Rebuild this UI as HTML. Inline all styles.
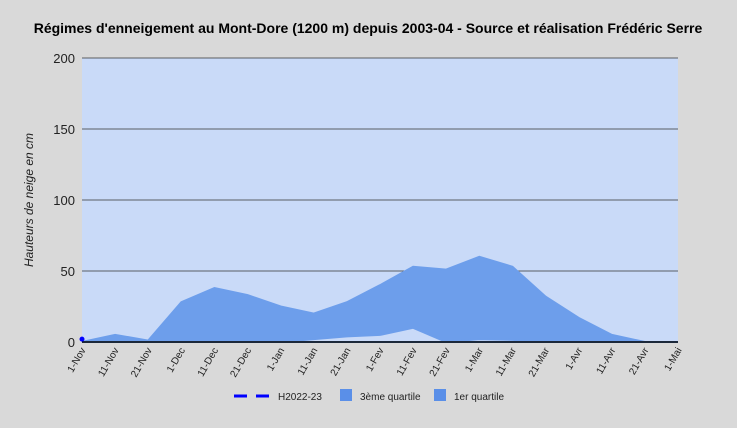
<!DOCTYPE html>
<html><head><meta charset="utf-8"><style>
body{margin:0;background:#d9d9d9;font-family:"Liberation Sans",sans-serif}
</style></head><body>
<svg id="c" width="737" height="423" xmlns="http://www.w3.org/2000/svg">
<rect width="737" height="423" fill="#d9d9d9"/>
<text x="368" y="33" text-anchor="middle" font-size="14" font-weight="bold" fill="#000">Régimes d'enneigement au Mont-Dore (1200 m) depuis 2003-04 - Source et réalisation Frédéric Serre</text>
<text transform="translate(33,200) rotate(-90)" text-anchor="middle" font-size="12" font-style="italic" fill="#222">Hauteurs de neige en cm</text>
<g id="plot"></g>
</svg>
<script>
const categories=["1-Nov","11-Nov","21-Nov","1-Dec","11-Dec","21-Dec","1-Jan","11-Jan","21-Jan","1-Fev","11-Fev","21-Fev","1-Mar","11-Mar","21-Mar","1-Avr","11-Avr","21-Avr","1-Mai"];
const q3=[0,5,1,28,38,33,25,20,28,40,53,51,60,53,32,17,5,0,0];
const q1=[0,0,0,0,0,0,0,2,4,5,10,0,2,1.5,0,0,0,0,0];
const h2022=[2];
const yTicks=[0,50,100,150,200];
const X0=82,X1=678,Y0=342,Y1=58,YMAX=200;
const xs=i=>X0+i*(X1-X0)/(categories.length-1);
const ys=v=>Y0-v*(Y0-Y1)/YMAX;
const NS="http://www.w3.org/2000/svg";
const g=document.getElementById('plot');
function mk(t,a){const e=document.createElementNS(NS,t);for(const k in a)e.setAttribute(k,a[k]);g.appendChild(e);return e;}
const bg=mk('rect',{x:X0,y:Y1,width:X1-X0,height:Y0-Y1,fill:'#c9daf8'});


yTicks.forEach(v=>{
 const l=mk('line',{x1:X0,x2:X1,y1:ys(v),y2:ys(v),stroke:v===0?'#000':'#333','stroke-width':v===0?1.5:0.8});
 
 
 const t=mk('text',{x:X0-7,y:ys(v)+5,'text-anchor':'end','font-size':13,fill:'#222'});
 t.textContent=v;
 
 
});
function area(vals,fill,name){
 let d='M'+xs(0)+','+ys(0);
 vals.forEach((v,i)=>d+=' L'+xs(i)+','+ys(v));
 d+=' L'+xs(vals.length-1)+','+ys(0)+' Z';
 const p=mk('path',{d:d,fill:fill,stroke:'#6d9eeb','stroke-width':2});
 
 
}
area(q3,'#6d9eeb','area-3eme-quartile');
area(q1,'#c9daf8','area-1er-quartile');
const ax=mk('line',{x1:X0,x2:X1,y1:Y0,y2:Y0,stroke:'#000','stroke-width':1.5});


h2022.forEach((v,i)=>{
 const c=mk('circle',{cx:xs(i),cy:ys(v),r:2.5,fill:'#0000ff'});
 
 
});
categories.forEach((c,i)=>{
 const t=mk('text',{x:xs(i)+4,y:Y0+8,'text-anchor':'end','font-size':10,fill:'#222',transform:`rotate(-60 ${xs(i)+4} ${Y0+8})`});
 t.textContent=c;
 
 
});
// legend
const lg=[{x:234,label:'H2022-23',type:'dash'},{x:340,label:'3ème quartile',type:'box'},{x:434,label:'1er quartile',type:'box'}];
lg.forEach(e=>{
 if(e.type==='dash'){
  const a=mk('line',{x1:e.x,x2:e.x+38,y1:396,y2:396,stroke:'#0000ff','stroke-width':3,'stroke-dasharray':'13,9'});
  
  
  var tx=e.x+44;
 } else {
  const r=mk('rect',{x:e.x,y:389,width:12,height:12,fill:'#5a8fe8'});
  
  
  var tx=e.x+20;
 }
 const t=mk('text',{x:tx,y:400,'font-size':10,fill:'#222'});
 t.textContent=e.label;
 
 
});
</script>
</body></html>
